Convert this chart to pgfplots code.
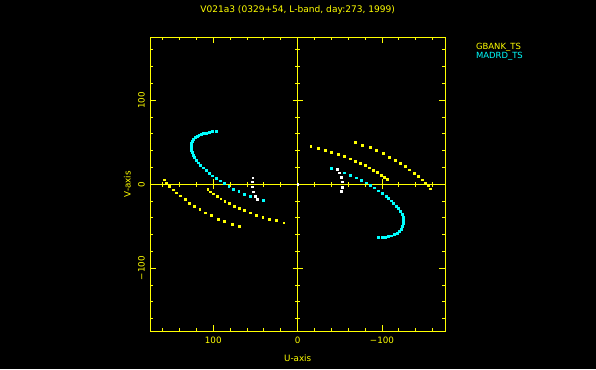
\documentclass[border=0pt]{standalone}
\usepackage{pgfplots}
\pgfplotsset{compat=1.18}
\usepackage{fontspec}
\setmainfont{DejaVu Sans}
\definecolor{pgyel}{RGB}{255,255,0}
\definecolor{pgcyan}{RGB}{0,255,255}
\begin{document}
\begin{tikzpicture}[x=1bp,y=1bp]
\fill[black] (0,0) rectangle (596,369);
\useasboundingbox (0,0) rectangle (596,369);
\begin{axis}[at={(150bp,37.7bp)}, anchor=south west, scale only axis,
  width=295.3bp, height=294bp, xmin=-175, xmax=175, ymin=-175, ymax=175, x dir=reverse,
  font=\fontsize{8.8}{10}\selectfont,
  xtick={-100,0,100}, ytick={-100,0,100},
  minor xtick={-160,-140,-120,-80,-60,-40,-20,20,40,60,80,120,140,160},
  minor ytick={-160,-140,-120,-80,-60,-40,-20,20,40,60,80,120,140,160},
  axis line style={pgyel, line width=1bp},
  every tick/.style={pgyel, line width=1bp},
  every minor tick/.style={pgyel, line width=1bp},
  tick align=inside,
  major tick length=6bp, minor tick length=3bp,
  xticklabels={−100,0,100},
  yticklabels={−100,0,100},
  tick label style={text=pgyel},
  xticklabel style={inner sep=0pt}, xticklabel shift=5bp,
  yticklabel style={rotate=90, anchor=south, inner sep=0pt}, yticklabel shift=5bp,
  xlabel={U-axis}, ylabel={V-axis},
  xlabel style={text=pgyel, at={(axis description cs:0.5,-0.093)}, anchor=center},
  ylabel style={text=pgyel, at={(axis description cs:-0.077,0.5)}, anchor=center},
  title={V021a3 (0329+54, L-band, day:273, 1999)},
  title style={text=pgyel, font=\fontsize{9.1}{10}\selectfont, at={(axis description cs:0.5,1.0725)}, anchor=center},
  legend style={draw=none, fill=none, at={(axis description cs:1.1,0.985)}, anchor=north west,
    font=\fontsize{8.5}{10}\selectfont, row sep=0pt, inner sep=0pt, nodes={inner sep=1pt}},
  legend cell align=left,
  legend image code/.code={},
  clip=false,
]
% zero lines with centred ticks
\draw[pgyel, line width=1bp] (axis cs:0,-175) -- (axis cs:0,175);
\draw[pgyel, line width=1bp] (axis cs:-175,0) -- (axis cs:175,0);
\pgfplotsinvokeforeach{-160,-140,-120,-80,-60,-40,-20,20,40,60,80,120,140,160}{
  \draw[pgyel, line width=1bp] ([yshift=-2.5bp]axis cs:#1,0) -- ([yshift=2.5bp]axis cs:#1,0);
  \draw[pgyel, line width=1bp] ([xshift=-2.5bp]axis cs:0,#1) -- ([xshift=2.5bp]axis cs:0,#1);
}
\pgfplotsinvokeforeach{-100,100}{
  \draw[pgyel, line width=1bp] ([yshift=-5bp]axis cs:#1,0) -- ([yshift=5bp]axis cs:#1,0);
  \draw[pgyel, line width=1bp] ([xshift=-5bp]axis cs:0,#1) -- ([xshift=5bp]axis cs:0,#1);
}
\addplot[only marks, mark=square*, mark size=0.9bp, pgyel, mark options={draw=none, fill=pgyel}] coordinates {
(158.6,5.5) (155.7,1.9) (151.8,-2.4) (147.9,-6.4) (143.9,-10.0) (138.8,-13.5) (133.7,-17.8) (128.2,-22.2)
(122.2,-25.7) (116.0,-29.7) (109.6,-33.7) (102.5,-37.2) (94.2,-41.2) (86.7,-44.4) (77.6,-47.4) (69.0,-50.3)
(106.5,-5.9) (103.3,-8.8) (100.1,-11.2) (95.4,-13.9) (91.1,-17.1) (86.4,-19.8) (80.8,-22.5) (75.3,-25.7)
(69.0,-28.5) (63.1,-30.5) (56.3,-33.7) (49.2,-36.4) (41.4,-38.8) (33.5,-41.2) (25.2,-43.2) (16.6,-45.6)
(-15.4,45.1) (-24.1,43.1) (-32.4,40.7) (-40.2,38.3) (-48.2,35.9) (-55.3,33.2) (-62.4,30.4) (-68.3,27.6)
(-74.2,24.9) (-79.8,22.5) (-85.2,19.7) (-89.9,16.6) (-94.3,14.2) (-98.7,11.0) (-102.6,8.3) (-106.2,5.9)
(-67.9,50.2) (-76.6,47.0) (-85.7,43.9) (-93.5,40.3) (-101.1,36.8) (-108.5,32.7) (-115.3,28.8) (-121.5,25.3)
(-127.5,21.4) (-132.5,17.3) (-137.8,13.4) (-142.8,9.8) (-147.2,5.5) (-151.1,1.5) (-154.7,-1.7) (-157.0,-5.2)
};
\addlegendentry{\textcolor{pgyel}{GBANK\_TS}}
\addplot[only marks, mark=square*, mark size=0.9bp, pgcyan, mark options={draw=none, fill=pgcyan}] coordinates {
(97.0,63.6) (101.3,62.9) (105.3,62.0) (108.4,61.2) (111.6,60.9) (114.3,59.7) (117.2,58.5) (119.5,57.3)
(121.9,55.8) (123.4,53.7) (124.6,51.7) (125.8,49.3) (126.2,46.6) (126.2,43.9) (125.8,41.0) (125.0,38.0)
(123.8,35.1) (122.6,32.7) (120.2,28.8) (118.3,25.6) (115.5,22.9) (112.4,19.7) (108.4,16.6) (105.3,13.4)
(101.3,10.2) (96.6,7.1) (91.8,4.3) (87.1,1.2) (81.7,-2.0) (76.1,-5.6) (69.8,-7.9) (63.1,-11.5)
(56.3,-14.2) (40.6,-19.0)
(-95.9,-63.3) (-99.9,-63.3) (-103.8,-62.9) (-107.7,-62.2) (-111.2,-61.3) (-114.4,-59.3) (-117.6,-58.1)
(-120.4,-56.2) (-122.4,-53.4) (-124.3,-50.3) (-125.1,-46.3) (-125.1,-42.3) (-124.7,-39.1) (-123.6,-35.2)
(-121.5,-31.7) (-119.2,-28.9) (-116.4,-25.7) (-113.6,-22.5) (-110.9,-19.5) (-107.7,-16.6) (-104.6,-13.9)
(-100.6,-10.7) (-95.9,-7.6) (-91.1,-4.0) (-86.0,-1.2) (-80.9,1.9) (-75.4,5.1) (-69.1,7.8) (-62.0,11.0)
(-54.9,13.8) (-39.9,19.0)
};
\addlegendentry{\textcolor{pgcyan}{MADRD\_TS}}
\addplot[forget plot, only marks, mark=square*, mark size=0.9bp, white, mark options={draw=none, fill=white}] coordinates {
(53.3,7.8) (54.0,3.1) (54.0,-2.8) (52.4,-8.8) (50.1,-13.9) (47.7,-17.8)
(-47.3,17.8) (-49.3,13.8) (-51.4,8.3) (-52.5,3.1) (-52.5,-3.2) (-51.7,-8.3)
(0,0)
};
\end{axis}
\end{tikzpicture}
\end{document}
